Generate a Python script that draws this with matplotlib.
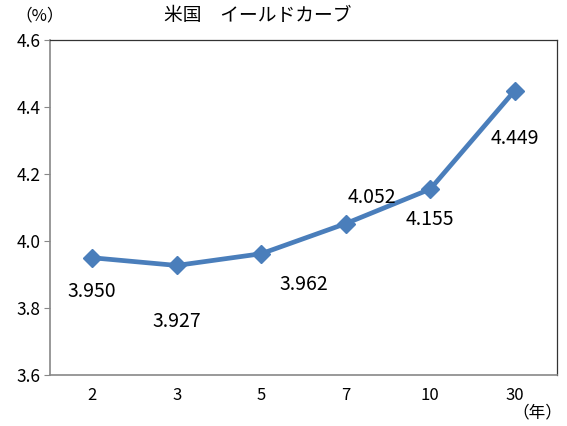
import matplotlib
matplotlib.use("Agg")
import matplotlib.pyplot as plt

plt.rcParams['font.family'] = ['Noto Sans CJK JP', 'DejaVu Sans']

categories = ["2", "3", "5", "7", "10", "30"]
yields = [3.950, 3.927, 3.962, 4.052, 4.155, 4.449]
labels = ["3.950", "3.927", "3.962", "4.052", "4.155", "4.449"]
yticks = [3.6, 3.8, 4.0, 4.2, 4.4, 4.6]
ytick_labels = ["3.6", "3.8", "4.0", "4.2", "4.4", "4.6"]
label_offsets = [(0, -34), (0, -56), (43, -31), (26, 26), (0, -30), (0, -48)]

fig = plt.figure(figsize=(5.67, 4.26), dpi=100)
ax = fig.add_axes([50/567, 1-375/426, 507/567, 335/426])

x = list(range(len(categories)))
ax.plot(x, yields, color="#4A7EBB", lw=3.4, marker="D", ms=9,
        markerfacecolor="#4A7EBB", markeredgecolor="#4A7EBB", zorder=3)

for xi, yi, lab, (dx, dy) in zip(x, yields, labels, label_offsets):
    ax.annotate(lab, (xi, yi), xytext=(dx*0.72, dy*0.72), textcoords="offset points",
                ha="center", va="center", fontsize=14, color="black")

ax.set_xlim(-0.5, len(categories)-0.5)
ax.set_ylim(3.6, 4.6)
ax.set_xticks(x)
ax.set_xticklabels(categories, fontsize=12)
ax.set_yticks(yticks)
ax.set_yticklabels(ytick_labels, fontsize=12.5)
ax.tick_params(axis='x', length=0, pad=9)
ax.tick_params(axis='y', length=4, color="#888888", pad=3)

for s in ["left", "bottom"]:
    ax.spines[s].set_color("#888888")
    ax.spines[s].set_linewidth(1.2)
for s in ["top", "right"]:
    ax.spines[s].set_color("#333333")
    ax.spines[s].set_linewidth(0.9)

fig.text(40/567, 1-16/426, "（%）", ha="center", va="center", fontsize=12)
fig.text(258/567, 1-16/426, "米国　イールドカーブ", ha="center", va="center", fontsize=13.5)
fig.text(562/567, 1-413/426, "（年）", ha="right", va="center", fontsize=12)

fig.savefig("out.png", dpi=100)
